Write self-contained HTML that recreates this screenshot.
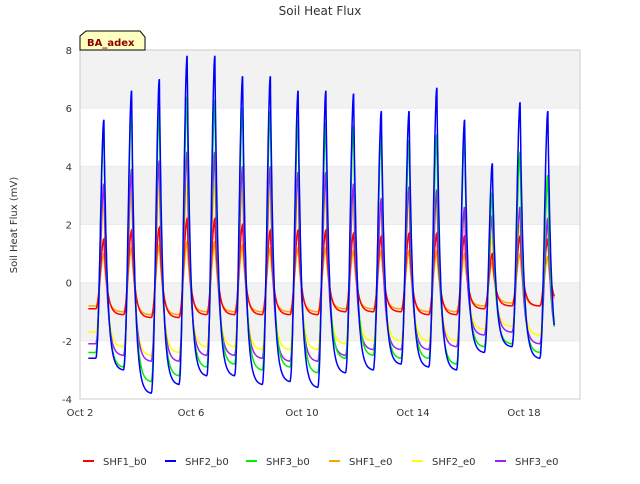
<!DOCTYPE html>
<html><head><meta charset="utf-8"><style>
body{margin:0;background:#fff;font-family:"DejaVu Sans",sans-serif}
</style></head><body>
<svg width="640" height="480" xmlns="http://www.w3.org/2000/svg" font-family="DejaVu Sans, Liberation Sans, sans-serif">
<rect width="640" height="480" fill="#fff"/>
<text x="320" y="15" text-anchor="middle" font-size="12" fill="#333">Soil Heat Flux</text>
<g id="bands"></g>
<rect x="80" y="50" width="500" height="349" fill="none" stroke="#ccc"/>
<g id="axes" font-size="10" fill="#333"></g>
<text transform="translate(17,225) rotate(-90)" text-anchor="middle" font-size="10" fill="#333">Soil Heat Flux (mV)</text>
<g id="series"></g>
<g>
<path d="M80,36 L86,31 L140,31 L145,37 L145,50 L80,50 Z" fill="#ffffc0" stroke="#000"/>
<text x="87" y="46" font-size="10" font-weight="bold" fill="#8b0000">BA_adex</text>
</g>
<g id="legend" font-size="10" fill="#333"></g>
</svg>
<script>
const yTicks=[-4,-2,0,2,4,6,8];
const xTickDays=[2,6,10,14,18];
const xTickLabels=["Oct 2","Oct 6","Oct 10","Oct 14","Oct 18"];
const seriesNames=["SHF1_b0","SHF2_b0","SHF3_b0","SHF1_e0","SHF2_e0","SHF3_e0"];
const seriesColors=["#ff0000","#0000ff","#00ee00","#ffa500","#ffff00","#a020f0"];
const firstPeakDay=2.86;
const startDay=2.3, endDay=19.1;
const peaksSHF1_b0=[1.5,1.8,1.9,2.2,2.2,2.0,1.8,1.8,1.8,1.7,1.6,1.7,1.7,1.6,1.0,1.6,1.5];
const minsSHF1_b0=[-0.9,-1.1,-1.2,-1.2,-1.1,-1.1,-1.1,-1.1,-1.1,-1.0,-1.0,-1.0,-1.1,-1.1,-0.9,-0.8,-0.8,-0.8];
const peaksSHF2_b0=[5.6,6.6,7.0,7.8,7.8,7.1,7.1,6.6,6.6,6.5,5.9,5.9,6.7,5.6,4.1,6.2,5.9];
const minsSHF2_b0=[-2.6,-3.0,-3.8,-3.5,-3.2,-3.2,-3.5,-3.4,-3.6,-3.1,-3.0,-2.8,-2.9,-3.0,-2.4,-2.2,-2.6,-2.7];
const peaksSHF3_b0=[5.3,6.0,6.0,6.4,6.3,6.0,5.9,5.6,5.5,5.4,5.1,4.9,5.1,5.0,3.1,4.5,3.7];
const minsSHF3_b0=[-2.4,-2.9,-3.4,-3.2,-2.9,-2.8,-3.0,-2.9,-3.1,-2.6,-2.5,-2.6,-2.6,-2.8,-2.2,-2.1,-2.4,-2.4];
const peaksSHF1_e0=[1.0,1.2,1.3,1.4,1.4,1.3,1.2,1.2,1.2,1.1,1.1,1.1,1.1,1.0,0.7,1.0,0.9];
const minsSHF1_e0=[-0.8,-1.0,-1.1,-1.1,-1.0,-1.0,-1.0,-1.0,-1.0,-0.9,-0.9,-0.9,-1.0,-1.0,-0.8,-0.7,-0.8,-0.8];
const peaksSHF2_e0=[2.7,3.1,3.3,3.4,3.4,3.2,3.2,3.0,3.1,2.9,2.6,2.7,2.8,2.4,1.6,2.0,2.0];
const minsSHF2_e0=[-1.7,-2.2,-2.5,-2.4,-2.2,-2.2,-2.3,-2.3,-2.3,-2.1,-2.0,-2.0,-2.0,-2.0,-1.6,-1.5,-1.8,-1.8];
const peaksSHF3_e0=[3.4,3.9,4.2,4.5,4.5,4.0,4.0,3.8,3.8,3.4,2.9,3.3,3.2,2.6,2.3,2.6,2.2];
const minsSHF3_e0=[-2.1,-2.5,-2.7,-2.7,-2.5,-2.5,-2.6,-2.7,-2.7,-2.5,-2.3,-2.3,-2.3,-2.2,-1.8,-1.7,-2.1,-2.1];
const allPeaks=[peaksSHF1_b0,peaksSHF2_b0,peaksSHF3_b0,peaksSHF1_e0,peaksSHF2_e0,peaksSHF3_e0];
const allMins=[minsSHF1_b0,minsSHF2_b0,minsSHF3_b0,minsSHF1_e0,minsSHF2_e0,minsSHF3_e0];
const drawOrder=[4,3,0,5,2,1];

const NS="http://www.w3.org/2000/svg";
const X0=80,X1=580,Y0=399,Y1=50;
const xs=d=>X0+(d-2)*27.75;
const ys=v=>Y0-(v+4)*(Y0-Y1)/12;
function mk(t,a,p){const e=document.createElementNS(NS,t);for(const k in a)e.setAttribute(k,a[k]);p.appendChild(e);return e;}

const bands=document.getElementById('bands');
for(let i=0;i<yTicks.length-1;i++){
  if(i%2===1){
    const r=mk('rect',{x:X0,y:ys(yTicks[i+1]),width:X1-X0,height:ys(yTicks[i])-ys(yTicks[i+1]),fill:'#f2f2f2'},bands);
    
    
  }
  const g=mk('line',{x1:X0,x2:X1,y1:ys(yTicks[i]),y2:ys(yTicks[i]),stroke:'#ebebeb'},bands);
  
  
}
const axes=document.getElementById('axes');
yTicks.forEach(v=>{
  const t=mk('text',{x:X0-8,y:ys(v)+4,'text-anchor':'end'},axes);t.textContent=v;
  
  
});
xTickDays.forEach((d,i)=>{
  const t=mk('text',{x:xs(d),y:Y0+17,'text-anchor':'middle'},axes);t.textContent=xTickLabels[i];
  
  
});

function val(pk,mn,t){
  const k=Math.floor(t-firstPeakDay+0.3);
  if(k<0)return mn[0];
  if(k>=pk.length)return mn[pk.length];
  const s=t-(firstPeakDay+k);
  const P=pk[k];
  if(s<0){const a=mn[k];const u=(s+0.3)/0.3;return a+(P-a)*Math.pow(u*u*(3-2*u),1.3);}
  const b=mn[k+1],tau=0.12,e=Math.exp(-0.7/tau);
  return b+(P-b)*(Math.exp(-s/tau)-e)/(1-e);
}
const sg=document.getElementById('series');
drawOrder.forEach(i=>{
  let d='';
  for(let t=startDay;t<=endDay;t+=0.01){
    d+=(d?'L':'M')+xs(t).toFixed(1)+','+ys(val(allPeaks[i],allMins[i],t)).toFixed(1);
  }
  const p=mk('path',{d:d,fill:'none',stroke:seriesColors[i],'stroke-width':1.5},sg);
  
  
});
const lg=document.getElementById('legend');
const lx=[83,165,246,329,412,495];
seriesNames.forEach((n,i)=>{
  const g=mk('g',{},lg);
  
  
  mk('line',{x1:lx[i],x2:lx[i]+11,y1:461,y2:461,stroke:seriesColors[i],'stroke-width':2},g);
  const t=mk('text',{x:lx[i]+20,y:465},g);t.textContent=n;
});
</script>
</body></html>
